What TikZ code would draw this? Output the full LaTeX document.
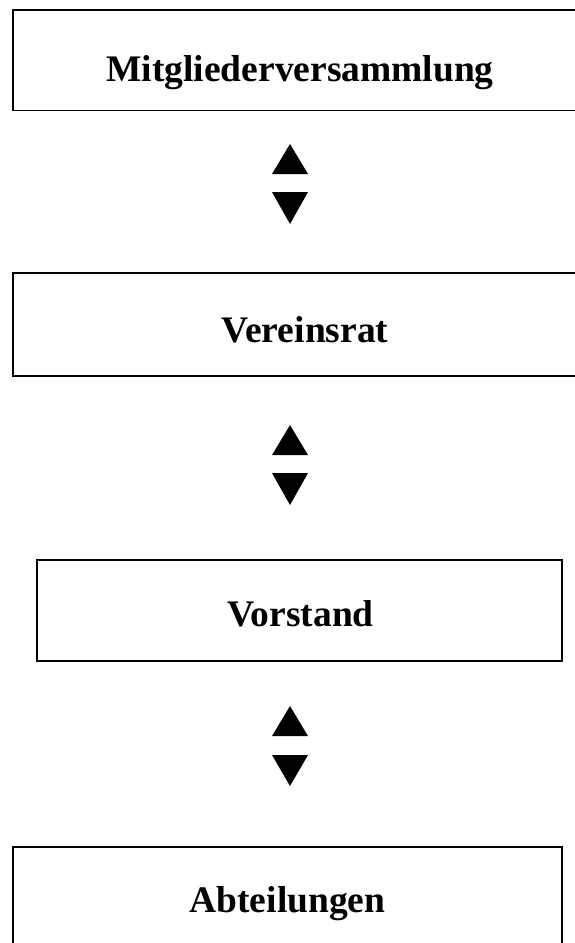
\documentclass[tikz,border=0pt]{standalone}
\usepackage{fontspec}
\setmainfont{Liberation Serif}
\begin{document}
\begin{tikzpicture}[x=1pt,y=-1pt,
  boxstyle/.style={draw=black,line width=1.6pt,inner sep=0pt},
  labelstyle/.style={font=\fontsize{37.5}{42}\selectfont\bfseries,anchor=base,inner sep=0pt},
  tri/.style={fill=black}]
\useasboundingbox (0,0) rectangle (575,943);
\clip (0,0) rectangle (575,943);
% boxes
\draw[boxstyle] (13,10) rectangle (588,110.5);
\draw[boxstyle] (13,273) rectangle (598,376);
\draw[boxstyle] (37,560) rectangle (562,661);
\draw[boxstyle] (13,847) rectangle (562,960);
% labels
\node[labelstyle] (t1) at (300,81) {Mitgliederversammlung};
\node[labelstyle] (t2) at (305,342) {Vereinsrat};
\node[labelstyle] (t3) at (300.5,626) {Vorstand};
\node[labelstyle] (t4) at (287.5,912) {Abteilungen};
% triangles
\fill[tri] (290,144) -- (272,174) -- (308,174) -- cycle;
\fill[tri] (272,192) -- (308,192) -- (290,224) -- cycle;
\fill[tri] (290,425) -- (272,455) -- (308,455) -- cycle;
\fill[tri] (272,473) -- (308,473) -- (290,505) -- cycle;
\fill[tri] (290,706) -- (272,736) -- (308,736) -- cycle;
\fill[tri] (272,755) -- (308,755) -- (290,786) -- cycle;
\end{tikzpicture}
\end{document}
